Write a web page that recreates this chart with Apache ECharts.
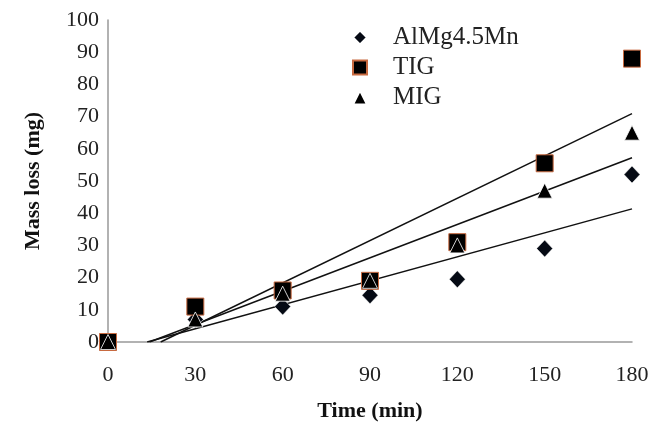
<!DOCTYPE html>
<html><head><meta charset="utf-8">
<script src="https://cdn.jsdelivr.net/npm/echarts@6/dist/echarts.min.js"></script>
<style>html,body{margin:0;padding:0;background:#fff}#c{width:665px;height:428px}</style>
</head><body><div id="c"></div>
<script>
var times = [0, 30, 60, 90, 120, 150, 180];
var alMg = [0, 7, 11, 14.5, 19.5, 29, 52];
var tig = [0, 11, 16, 19, 31, 55.5, 88];
var mig = [0, 7, 15, 19, 30, 47, 65];
var yTicks = [0, 10, 20, 30, 40, 50, 60, 70, 80, 90, 100];

function pairs(ys){ return times.map(function(t,i){return [t, ys[i]];}); }
function trend(ys){
  var n = times.length, mx=0, my=0;
  for (var i=0;i<n;i++){mx+=times[i];my+=ys[i];}
  mx/=n; my/=n;
  var sxy=0,sxx=0;
  for (var i=0;i<n;i++){sxy+=(times[i]-mx)*(ys[i]-my);sxx+=(times[i]-mx)*(times[i]-mx);}
  var a=sxy/sxx, b=my-a*mx;
  var x0 = Math.max(times[0], -b/a);
  var x1 = times[n-1];
  return [[x0, a*x0+b],[x1, a*x1+b]];
}
var font = 'Liberation Serif, Times New Roman, serif';
var chart = echarts.init(document.getElementById('c'));
function trendSeries(ys){
  return {type:'line', data: trend(ys), symbol:'none', silent:true, z:1,
    lineStyle:{color:'#111', width:1.5}, clip:true};
}
chart.setOption({
  animation:false,
  grid:{left:108, right:33, top:20, bottom:86},
  legend:{
    orient:'vertical', left:347, top:20, itemGap:5,
    itemWidth:14, itemHeight:14,
    data:['AlMg4.5Mn','TIG','MIG'],
    textStyle:{fontFamily:font, fontSize:25, color:'#222', padding:[0,0,0,21]}
  },
  xAxis:{
    type:'value', min:0, max:180, interval:30,
    name:'Time (min)', nameLocation:'middle', nameGap:58,
    nameTextStyle:{fontFamily:font, fontSize:22, fontWeight:'bold', color:'#111'},
    axisLine:{show:true, onZero:false, lineStyle:{color:'#999', width:1.5}},
    axisTick:{show:false}, splitLine:{show:false},
    axisLabel:{fontFamily:font, fontSize:22, color:'#222', margin:22}
  },
  yAxis:{
    type:'value', min:0, max:100, interval:10,
    name:'Mass loss (mg)', nameLocation:'middle', nameGap:64,
    nameTextStyle:{fontFamily:font, fontSize:22, fontWeight:'bold', color:'#111'},
    axisLine:{show:true, lineStyle:{color:'#999', width:1.5}},
    axisTick:{show:false}, splitLine:{show:false},
    axisLabel:{fontFamily:font, fontSize:22, color:'#222', margin:9,
      formatter:function(v){return yTicks.indexOf(v)>=0?String(v):'';}}
  },
  series:[
    trendSeries(alMg), trendSeries(tig), trendSeries(mig),
    {name:'AlMg4.5Mn', type:'scatter', data:pairs(alMg), symbol:'diamond', symbolSize:[16,17], z:3,
      itemStyle:{color:'#050a14', borderColor:'#ffffff', borderWidth:0.5, opacity:1}},
    {name:'TIG', type:'scatter', data:pairs(tig), symbol:'rect', symbolSize:17, z:4,
      itemStyle:{color:'#000', borderColor:'#c86a40', borderWidth:1, opacity:1}},
    {name:'MIG', type:'scatter', data:pairs(mig), symbol:'triangle', symbolSize:[15,15], z:5,
      itemStyle:{color:'#000', borderColor:'#ffffff', borderWidth:0.8, opacity:1}}
  ]
});
</script></body></html>
